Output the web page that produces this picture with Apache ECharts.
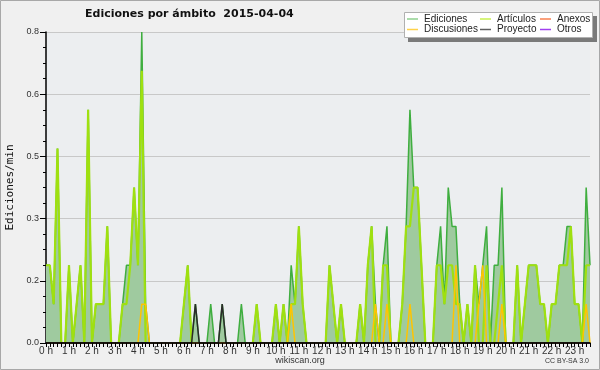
<!DOCTYPE html>
<html><head><meta charset="utf-8">
<script src="https://cdn.jsdelivr.net/npm/echarts/dist/echarts.min.js"></script>
<style>html,body{margin:0;padding:0;background:#f0f0f0}#c{width:600px;height:370px}</style>
</head><body><div id="c"></div><script>
// Tick labels (one per hour; data every 10 minutes)
const hourLabels = ['0 h','1 h','2 h','3 h','4 h','5 h','6 h','7 h','8 h','9 h','10 h','11 h','12 h','13 h','14 h','15 h','16 h','17 h','18 h','19 h','20 h','21 h','22 h','23 h'];
const stepsPerHour = 6;
const pointCount = 143;
// Series values (edits per minute, 10-minute bins)
const ediciones = [0.2,0.2,0.1,0.5,0,0,0.2,0,0.1,0.2,0,0.6,0,0.1,0.1,0.1,0.3,0,0,0,0.1,0.2,0.2,0.4,0.2,0.8,0.1,0,0,0,0,0,0,0,0,0,0.1,0.2,0,0.1,0,0,0,0.1,0,0,0.1,0,0,0,0,0.1,0,0,0,0.1,0,0,0,0,0.1,0,0.1,0,0.2,0.1,0.3,0.1,0,0,0,0,0,0,0.2,0.1,0,0.1,0,0,0,0,0.1,0,0.2,0.3,0.1,0,0.2,0.3,0,0,0,0.1,0.3,0.6,0.4,0.4,0.2,0,0,0,0.2,0.3,0.1,0.4,0.3,0.3,0.1,0,0.1,0,0.2,0.1,0.2,0.3,0,0.2,0.2,0.4,0,0,0,0.2,0,0.1,0.2,0.2,0.2,0.1,0.1,0,0.1,0.1,0.2,0.2,0.3,0.3,0.1,0.1,0,0.4,0.2];
const articulos = [0.2,0.2,0.1,0.5,0,0,0.2,0,0.1,0.2,0,0.6,0,0.1,0.1,0.1,0.3,0,0,0,0.1,0.1,0.2,0.4,0.2,0.7,0,0,0,0,0,0,0,0,0,0,0.1,0.2,0,0,0,0,0,0,0,0,0,0,0,0,0,0,0,0,0,0.1,0,0,0,0,0.1,0,0.1,0,0.1,0.1,0.3,0.1,0,0,0,0,0,0,0.2,0.1,0,0.1,0,0,0,0,0.1,0,0.2,0.3,0,0,0.2,0.2,0,0,0,0.1,0.3,0.3,0.4,0.4,0.2,0,0,0,0.2,0.2,0.1,0.2,0.2,0.1,0.1,0,0.1,0,0.2,0,0,0.2,0,0,0.1,0.2,0,0,0,0.2,0,0.1,0.2,0.2,0.2,0.1,0.1,0,0.1,0.1,0.2,0.2,0.2,0.3,0.1,0.1,0,0.2,0.2];
const anexos = new Array(pointCount).fill(0);
const discusiones = [0,0,0,0,0,0,0,0,0,0,0,0,0,0,0,0,0,0,0,0,0,0,0,0,0,0.1,0.1,0,0,0,0,0,0,0,0,0,0,0,0,0,0,0,0,0,0,0,0,0,0,0,0,0,0,0,0,0,0,0,0,0,0,0,0,0,0.1,0,0,0,0,0,0,0,0,0,0,0,0,0,0,0,0,0,0,0,0,0,0.1,0,0,0.1,0,0,0,0,0,0.1,0,0,0,0,0,0,0,0,0,0,0,0.2,0,0,0,0,0,0.1,0.2,0,0,0,0,0.1,0,0,0,0,0,0,0,0,0,0,0,0,0,0,0,0,0,0,0,0,0,0.1,0];
const proyecto = [0,0,0,0,0,0,0,0,0,0,0,0,0,0,0,0,0,0,0,0,0,0,0,0,0,0,0,0,0,0,0,0,0,0,0,0,0,0,0,0.1,0,0,0,0,0,0,0.1,0,0,0,0,0,0,0,0,0,0,0,0,0,0,0,0,0,0,0,0,0,0,0,0,0,0,0,0,0,0,0,0,0,0,0,0,0,0,0,0,0,0,0,0,0,0,0,0,0,0,0,0,0,0,0,0,0,0,0,0,0,0,0,0,0,0,0,0,0,0,0,0,0,0,0,0,0,0,0,0,0,0,0,0,0,0,0,0,0,0,0,0,0,0,0,0];
const otros = new Array(pointCount).fill(0);

const categories = [];
for (let i = 0; i < pointCount; i++) {
  categories.push(i % stepsPerHour === 0 ? hourLabels[i / stepsPerHour] : '');
}

const chart = echarts.init(document.getElementById('c'), null, {renderer: 'canvas'});
const font = 'Liberation Sans';
function lineSeries(name, data, color, width, z) {
  return {name, type: 'line', data, symbol: 'none', z,
    lineStyle: {color, width}, itemStyle: {color}};
}
const legendBase = {orient: 'vertical', icon: 'rect', itemWidth: 11, itemHeight: 1.5, itemGap: 0.5,
  padding: 0, selectedMode: false, top: 14,
  textStyle: {fontSize: 10, lineHeight: 10, color: '#222', fontFamily: font, padding: [0,0,0,1]}};
chart.setOption({
  animation: false,
  backgroundColor: '#f0f0f0',
  title: {text: 'Ediciones por ámbito  2015-04-04', left: 85, top: 9, padding: 0,
    textStyle: {fontSize: 11, fontWeight: 'bold', color: '#111', fontFamily: 'DejaVu Sans'}},
  grid: {left: 46, right: 10, top: 32, bottom: 27, containLabel: false, outerBoundsMode: 'none',
    show: true, backgroundColor: '#eceef0', borderWidth: 0},
  legend: [
    Object.assign({}, legendBase, {left: 407, data: [
      {name: 'Ediciones', itemStyle: {color: '#8fd08f', borderWidth: 0}},
      {name: 'Discusiones', itemStyle: {color: '#ffd24a', borderWidth: 0}}]}),
    Object.assign({}, legendBase, {left: 480, data: [
      {name: 'Artículos', itemStyle: {color: '#c8f050', borderWidth: 0}},
      {name: 'Proyecto', itemStyle: {color: '#606060', borderWidth: 0}}]}),
    Object.assign({}, legendBase, {left: 540, data: [
      {name: 'Anexos', itemStyle: {color: '#f88050', borderWidth: 0}},
      {name: 'Otros', itemStyle: {color: '#a040f0', borderWidth: 0}}]})
  ],
  xAxis: {type: 'category', data: categories, boundaryGap: false, z: 10,
    axisLine: {lineStyle: {color: '#000', width: 1.5}},
    axisTick: {show: true, interval: 0, length: 4, lineStyle: {color: '#000'}},
    axisLabel: {interval: 0, margin: 3, fontSize: 10, color: '#333', fontFamily: font},
    splitLine: {show: false}},
  yAxis: {type: 'value', min: 0, max: 0.8, interval: 0.16,
    name: 'Ediciones/min', nameLocation: 'middle', nameRotate: 90, nameGap: 30,
    nameTextStyle: {fontSize: 11, color: '#111', fontFamily: 'DejaVu Sans Mono'},
    axisLine: {show: true, lineStyle: {color: '#000', width: 1.5}},
    axisTick: {show: true, length: 6, lineStyle: {color: '#000'}},
    minorTick: {show: true, splitNumber: 4, length: 3, lineStyle: {color: '#000'}},
    axisLabel: {fontSize: 9, margin: 7, color: '#333', fontFamily: font,
      formatter: v => v.toFixed(1)},
    splitLine: {show: true, lineStyle: {color: '#c8c8c8', width: 1}}},
  series: [
    Object.assign(lineSeries('Ediciones', ediciones, '#3fae3f', 1.5, 2),
      {areaStyle: {color: '#9fca9f', opacity: 1}}),
    lineSeries('Artículos', articulos, '#9fe010', 2.2, 3),
    lineSeries('Anexos', anexos, '#f07040', 1.3, 3),
    lineSeries('Discusiones', discusiones, '#ffc400', 1.5, 4),
    lineSeries('Proyecto', proyecto, '#2a2a2a', 1.5, 5),
    lineSeries('Otros', otros, '#9030e0', 1.3, 3)
  ],
  graphic: [
    {type: 'rect', z: 0, shape: {x: 0.5, y: 0.5, width: 599, height: 369},
      style: {fill: null, stroke: '#a8a8a8', lineWidth: 1}},
    {type: 'rect', z: 1, shape: {x: 408, y: 16, width: 189, height: 26}, style: {fill: '#7a7a7a'}},
    {type: 'rect', z: 1, shape: {x: 404.5, y: 12.5, width: 188, height: 25},
      style: {fill: '#ffffff', stroke: '#b0b0b0', lineWidth: 1}},
    {type: 'text', z: 5, left: 'center', top: 356,
      style: {text: 'wikiscan.org', fontSize: 9, fill: '#333', fontFamily: font}},
    {type: 'text', z: 5, right: 11, top: 358,
      style: {text: 'CC BY-SA 3.0', fontSize: 7, fill: '#333', fontFamily: font}}
  ]
});
</script></body></html>
